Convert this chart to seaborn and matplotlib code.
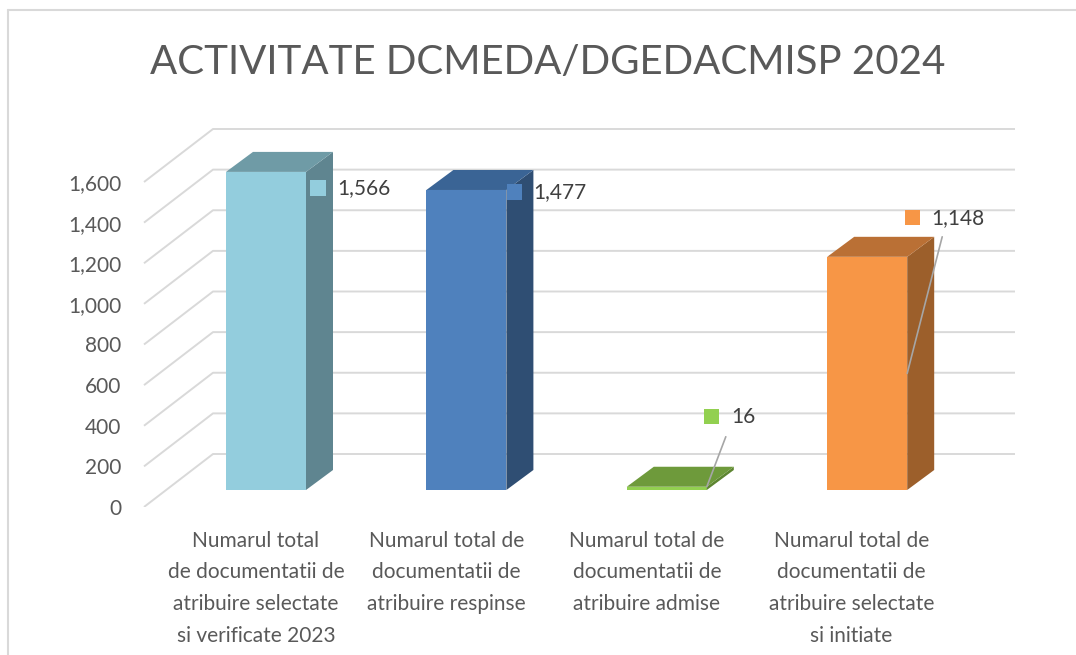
import matplotlib
matplotlib.use("Agg")
import matplotlib.pyplot as plt
import seaborn as sns
from matplotlib.patches import Polygon
from matplotlib.lines import Line2D

# ---- data ----
categories = [
    "Numarul total\nde documentatii de\natribuire selectate\nsi verificate 2023",
    "Numarul total de\ndocumentatii de\natribuire respinse",
    "Numarul total de\ndocumentatii de\natribuire admise",
    "Numarul total de\ndocumentatii de\natribuire selectate\nsi initiate",
]
values = [1566, 1477, 16, 1148]
value_labels = ["1,566", "1,477", "16", "1,148"]
y_ticks = [0, 200, 400, 600, 800, 1000, 1200, 1400, 1600]
y_tick_labels = ["0", "200", "400", "600", "800", "1,000", "1,200", "1,400", "1,600"]
title = "ACTIVITATE DCMEDA/DGEDACMISP 2024"

# ---- styles / layout ----
front_colors = ["#93CDDD", "#4F81BD", "#92D050", "#F79646"]
side_colors = ["#5F8590", "#2F4E73", "#5D8531", "#9C5F2B"]
top_colors = ["#6F9BA6", "#3A6495", "#6E9A3B", "#BA7035"]
label_offsets_px = [(12, 16), (8, 2), (5, -70), (5, -39)]   # square centre vs bar front-right-top
leader_top_px = [None, None, (14, 20), (30, 19)]              # leader end vs square centre
leader_base_frac = [None, None, 1.0, 0.5]
cat_nudge_px = [10, 0, 0, 4]
FONT = "Lato"
TXT = "#595959"

sns.set_theme(style="white")
plt.rcParams["font.family"] = [FONT, "DejaVu Sans"]

W, H = 1076, 655
fig = plt.figure(figsize=(W / 100, H / 100), dpi=100)
fig.patch.set_facecolor("white")

SX = 200.4      # px per category unit
SY = 0.203125   # px per value unit
X0 = 266        # px of first bar centre
ZERO = 490      # px (from top) of value 0 on bar front plane
FLOOR_FRONT = 507

ax_left, ax_right = 127, W
ax = fig.add_axes([ax_left / W, (H - FLOOR_FRONT) / H, (ax_right - ax_left) / W, FLOOR_FRONT / H])


def px_x(px):
    return px / SX


def px_y(px):
    return px / SY


# depth geometry (pixels)
BAR_D = (27, 20)          # bar depth offset
FLOOR_F = (-20, -17)      # floor front plane relative to bar front plane
WALL = (47, 36)           # back wall relative to bar front plane
left_front_x = (144 - X0) / SX
left_back_x = (213 - X0) / SX
right_back_x = (1015 - X0) / SX

# bars (front faces)
sns.barplot(x=list(range(len(values))), y=values, hue=list(range(len(values))),
            palette=front_colors, width=80 / SX, saturation=1, legend=False,
            ax=ax, zorder=3, linewidth=0)

ax.set_xlim((ax_left - X0) / SX, (ax_right - X0) / SX)
ax.set_ylim(-(FLOOR_FRONT - ZERO) / SY, ZERO / SY)

# gridlines (side wall diagonals + back wall)
for v in y_ticks:
    yf = v + px_y(FLOOR_F[1])
    yb = v + px_y(WALL[1])
    ax.plot([left_front_x, left_back_x, right_back_x], [yf, yb, yb],
            color="#D9D9D9", lw=1.4, zorder=0, solid_capstyle="butt")

ddx, ddy = px_x(BAR_D[0]), px_y(BAR_D[1])
for i, p in enumerate(ax.patches[:len(values)]):
    x0 = p.get_x()
    x1 = x0 + p.get_width()
    h = p.get_height()
    side = Polygon([(x1, 0), (x1 + ddx, ddy), (x1 + ddx, h + ddy), (x1, h)],
                   closed=True, facecolor=side_colors[i], edgecolor="none", zorder=3)
    top = Polygon([(x0, h), (x0 + ddx, h + ddy), (x1 + ddx, h + ddy), (x1, h)],
                  closed=True, facecolor=top_colors[i], edgecolor="none", zorder=3)
    ax.add_patch(side)
    ax.add_patch(top)

    ox, oy = label_offsets_px[i]
    sx = x1 + px_x(ox)
    sy = h - px_y(oy)
    ax.scatter([sx], [sy], marker="s", s=120, color=front_colors[i],
               edgecolors="none", zorder=5)
    ax.text(sx + px_x(19), sy, value_labels[i], ha="left", va="center",
            fontsize=15, color="#404040", zorder=6)
    if leader_top_px[i] is not None:
        lx, ly = leader_top_px[i]
        ax.plot([x1, sx + px_x(lx)], [h * leader_base_frac[i], sy - px_y(ly)],
                color="#A6A6A6", lw=1.2, zorder=6)

# axis labels
ax.set_yticks([v + px_y(FLOOR_F[1]) for v in y_ticks])
ax.set_yticklabels(y_tick_labels, fontsize=15, color=TXT)
ax.set_xticks([i + px_x(FLOOR_F[0] + cat_nudge_px[i]) for i in range(len(categories))])
ax.set_xticklabels(categories, fontsize=15, color=TXT, linespacing=1.74)
ax.tick_params(axis="both", length=0)
ax.tick_params(axis="y", pad=4)
ax.tick_params(axis="x", pad=17)
for s in ax.spines.values():
    s.set_visible(False)
ax.set_facecolor("none")
ax.grid(False)

# title
fig.text(548 / W, 1 - 63 / H, title, ha="center", va="center",
         fontsize=29, color=TXT)

# chart border (left and top visible)
fig.add_artist(Line2D([8 / W, 8 / W], [0, 1 - 10 / H], color="#D9D9D9", lw=1.5))
fig.add_artist(Line2D([8 / W, 1], [1 - 10 / H, 1 - 10 / H], color="#D9D9D9", lw=1.5))

fig.savefig("out.png", dpi=100)
